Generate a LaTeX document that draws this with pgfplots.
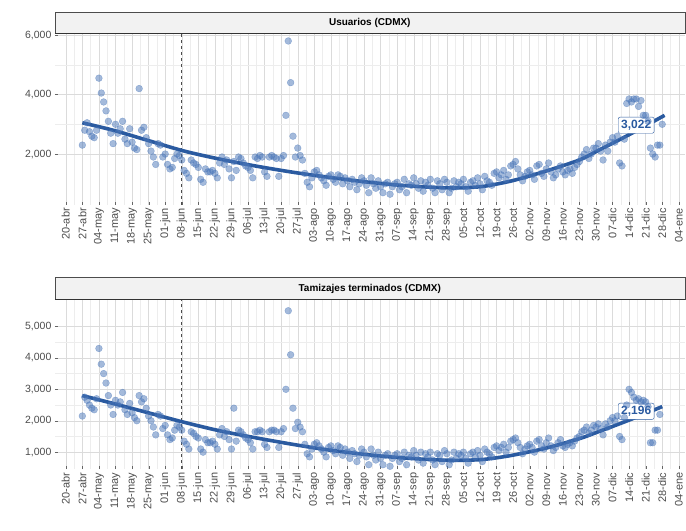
\documentclass[border=0pt]{standalone}
\usepackage{pgfplots}
\pgfplotsset{compat=1.18}
\usepackage{fontspec}
\setmainfont{Liberation Sans}
\definecolor{pt}{HTML}{4A76B8}
\definecolor{ln}{HTML}{2A5AA0}
\pgfplotstableread{
d v
7 2300
8 2800
9 3050
10 2750
11 2600
12 2550
13 2800
14 4550
15 4050
16 3750
17 3450
18 3100
19 2700
20 2350
21 3000
22 2700
23 2850
24 3100
25 2500
26 2350
27 2850
28 2400
29 2200
30 2150
31 4200
32 2800
33 2900
34 2550
35 2350
36 2100
37 1900
38 1650
39 2350
40 2300
41 1900
42 2000
43 1650
44 1500
45 1550
46 1850
47 2000
48 1950
49 1800
50 1450
51 1350
52 1200
53 1800
54 1700
55 1650
56 1550
57 1150
58 1050
59 1500
60 1400
61 1400
62 1450
63 1350
64 1200
65 1700
66 1900
67 1650
68 1800
69 1500
70 1200
71 1750
72 1450
73 1900
74 1850
75 1700
76 1600
77 1550
78 1450
79 1200
80 1900
81 1850
82 1950
83 1900
84 1400
85 1250
86 1900
87 1950
88 1900
89 1850
90 1250
91 1850
92 1950
93 3300
94 5800
95 4400
96 2600
97 1900
98 2200
99 1950
100 1800
101 1350
102 1050
103 900
104 1200
105 1400
106 1450
107 1300
108 1200
109 1100
110 950
111 1250
112 1300
113 1150
114 1050
115 1300
116 1250
117 1000
118 1200
119 1100
120 900
121 1150
122 1050
123 800
124 1000
125 1200
126 1100
127 950
128 700
129 1200
130 1000
131 850
132 1100
133 900
134 700
135 1000
136 1050
137 650
138 900
139 1000
140 1050
141 800
142 900
143 1150
144 700
145 1000
146 950
147 1200
148 1000
149 850
150 1100
151 750
152 1050
153 950
154 1150
155 850
156 700
157 1100
158 1000
159 800
160 1150
161 1050
162 700
163 850
164 1100
165 900
166 1050
167 1000
168 1150
169 900
170 750
171 1050
172 1100
173 950
174 1200
175 1000
176 800
177 1250
178 1100
179 1050
180 950
181 1350
182 1400
183 1200
184 1300
185 1450
186 1150
187 1300
188 1600
189 1650
190 1750
191 1500
192 1300
193 1100
194 1250
195 1400
196 1450
197 1300
198 1150
199 1600
200 1650
201 1350
202 1250
203 1500
204 1700
205 1400
206 1200
207 1300
208 1500
209 1600
210 1400
211 1300
212 1450
213 1500
214 1350
215 1550
216 1650
217 1750
218 1900
219 2000
220 2150
221 1850
222 2000
223 2200
224 2200
225 2350
226 2100
227 1800
228 2300
229 2100
230 2400
231 2550
232 2400
233 2600
234 1700
235 1600
236 2500
237 3700
238 3850
239 3750
240 3850
241 3850
242 3600
243 3800
244 3300
245 3300
246 3100
247 2200
248 2000
249 1900
250 2300
251 2300
252 3000
}\topdata
\pgfplotstableread{
d v
7 2150
8 2750
9 2650
10 2500
11 2400
12 2350
13 2700
14 4300
15 3800
16 3500
17 3200
18 2800
19 2500
20 2200
21 2650
22 2500
23 2600
24 2900
25 2350
26 2200
27 2550
28 2250
29 2100
30 2000
31 2800
32 2600
33 2700
34 2400
35 2150
36 2000
37 1800
38 1550
39 2200
40 2150
41 1750
42 1850
43 1550
44 1400
45 1450
46 1700
47 1850
48 1800
49 1700
50 1350
51 1250
52 1100
53 1650
54 1600
55 1500
56 1450
57 1100
58 1000
59 1400
60 1300
61 1300
62 1350
63 1250
64 1100
65 1550
66 1750
67 1500
68 1650
69 1400
70 1100
71 2400
72 1350
73 1700
74 1650
75 1550
76 1450
77 1400
78 1300
79 1100
80 1650
81 1650
82 1700
83 1650
84 1250
85 1150
86 1650
87 1700
88 1700
89 1650
90 1150
91 1650
92 1750
93 3000
94 5500
95 4100
96 2400
97 1750
98 1950
99 1800
100 1650
101 1250
102 950
103 850
104 1100
105 1250
106 1300
107 1200
108 1100
109 1000
110 850
111 1150
112 1200
113 1050
114 950
115 1200
116 1150
117 900
118 1100
119 1000
120 800
121 1050
122 950
123 700
124 900
125 1100
126 1000
127 850
128 600
129 1100
130 900
131 750
132 1000
133 800
134 600
135 900
136 950
137 550
138 800
139 900
140 950
141 700
142 800
143 1000
144 600
145 900
146 850
147 1050
148 900
149 750
150 1000
151 650
152 950
153 850
154 1000
155 750
156 600
157 950
158 900
159 700
160 1050
161 950
162 600
163 750
164 1000
165 800
166 950
167 900
168 1000
169 800
170 650
171 950
172 1000
173 850
174 1050
175 900
176 700
177 1100
178 1000
179 950
180 850
181 1150
182 1200
183 1050
184 1150
185 1250
186 1000
187 1150
188 1350
189 1400
190 1450
191 1300
192 1150
193 950
194 1100
195 1200
196 1250
197 1150
198 1000
199 1350
200 1400
201 1200
202 1100
203 1300
204 1450
205 1200
206 1050
207 1150
208 1300
209 1400
210 1200
211 1150
212 1250
213 1300
214 1200
215 1350
216 1450
217 1500
218 1650
219 1700
220 1800
221 1600
222 1700
223 1850
224 1800
225 1900
226 1750
227 1550
228 1900
229 1800
230 2000
231 2100
232 2000
233 2150
234 1500
235 1400
236 2100
237 2500
238 3000
239 2900
240 2750
241 2650
242 2700
243 2600
244 2650
245 2600
246 2450
247 1300
248 1300
249 1700
250 1700
251 2200
}\botdata
\pgfplotsset{
  panel/.style={
    anchor=south west, scale only axis, width=631pt,
    xmin=-4.6, xmax=261.5, clip=false,
    axis line style={draw=none}, axis x line*=bottom,
    xtick={0,7,...,259},
    xticklabels={20-abr,27-abr,04-may,11-may,18-may,25-may,01-jun,08-jun,15-jun,22-jun,29-jun,06-jul,13-jul,20-jul,27-jul,03-ago,10-ago,17-ago,24-ago,31-ago,07-sep,14-sep,21-sep,28-sep,05-oct,12-oct,19-oct,26-oct,02-nov,09-nov,16-nov,23-nov,30-nov,07-dic,14-dic,21-dic,28-dic,04-ene},
    x tick label style={rotate=90, anchor=east, font=\fontsize{11}{11}\selectfont, text=black!70},
    y tick label style={font=\fontsize{10.5}{10.5}\selectfont, text=black!70},
    /pgf/number format/assume math mode=true,
    /pgf/number format/1000 sep={,},
    minor x tick num=1, minor y tick num=1,
    grid=both, major grid style={black!14}, minor grid style={black!7},
    tick style={black!60}, major tick length=3pt, minor tick length=0pt,
    xtick pos=bottom, ytick pos=left,
  },
  pts/.style={only marks, mark=*, mark size=3.4pt, draw=pt, fill=pt, draw opacity=0.5, fill opacity=0.5},
}
\begin{document}
\begin{tikzpicture}
\path (0pt,0pt) rectangle (686pt,531pt);
\begin{axis}[panel, at={(55pt,326pt)}, height=172pt,
  ymin=300, ymax=6070, ytick={2000,4000,6000}]
\draw[dashed, black!70, thick] (axis cs:49,300) -- (axis cs:49,6070);
\addplot[pts] table[x=d,y=v]{\topdata};
\addplot[ln, solid, line width=3.6pt, smooth, no marks] coordinates {(7,3050)(20,2800)(35,2450)(50,2100)(65,1830)(80,1600)(95,1400)(110,1230)(125,1080)(140,960)(155,880)(165,860)(175,900)(182,990)(190,1130)(203,1430)(217,1800)(224,2080)(238,2650)(253,3300)};
\node[draw=ln, fill=white, rounded corners=2pt, text=ln, font=\bfseries\fontsize{12}{12}\selectfont, inner sep=3pt] at (axis cs:241,2970) {3,022};
\end{axis}
\draw[black!70, fill=black!5] (55pt,498pt) rectangle (686pt,519pt);
\draw[black!80, thick] (55pt,498pt) -- (686pt,498pt);
\node[font=\bfseries\fontsize{10}{10}\selectfont] at (370.5pt,508.5pt) {Usuarios (CDMX)};
\begin{axis}[panel, at={(55pt,61pt)}, height=170pt,
  ymin=460, ymax=5860, ytick={1000,2000,3000,4000,5000}]
\draw[dashed, black!70, thick] (axis cs:49,460) -- (axis cs:49,5860);
\addplot[pts] table[x=d,y=v]{\botdata};
\addplot[ln, solid, line width=3.6pt, smooth, no marks] coordinates {(7,2800)(20,2550)(35,2250)(50,1950)(65,1680)(80,1460)(95,1260)(110,1080)(125,940)(140,830)(155,760)(165,740)(175,760)(182,820)(190,920)(203,1130)(217,1430)(224,1620)(238,2020)(252,2450)};
\node[draw=ln, fill=white, rounded corners=2pt, text=ln, font=\bfseries\fontsize{12}{12}\selectfont, inner sep=3pt] at (axis cs:241,2300) {2,196};
\end{axis}
\draw[black!70, fill=black!5] (55pt,231pt) rectangle (686pt,253pt);
\draw[black!80, thick] (55pt,231pt) -- (686pt,231pt);
\node[font=\bfseries\fontsize{10}{10}\selectfont] at (370.5pt,242pt) {Tamizajes terminados (CDMX)};
\end{tikzpicture}
\end{document}
